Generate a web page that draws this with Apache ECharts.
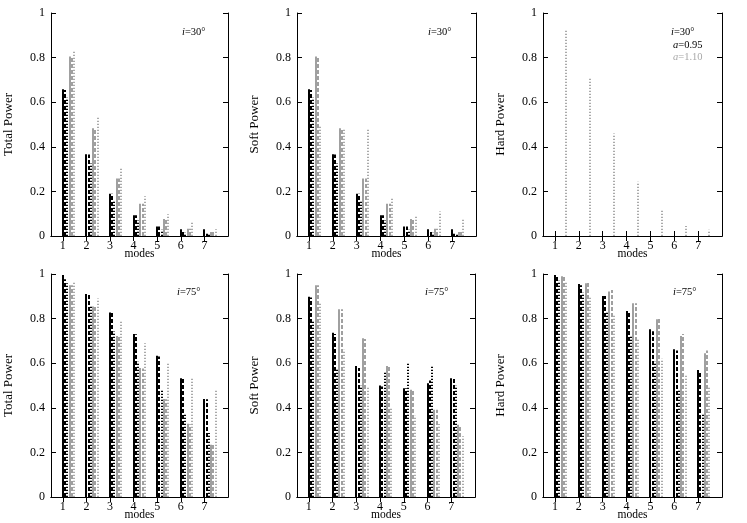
<!DOCTYPE html>
<html>
<head>
<meta charset="utf-8">
<script src="https://cdn.jsdelivr.net/npm/echarts@6/dist/echarts.min.js"></script>
<style>
html, body { margin: 0; padding: 0; background: #fff; }
#chart { width: 747px; height: 523px; }
</style>
</head>
<body>
<div id="chart"></div>
<script>
// modes on the x axis
var modes = [1, 2, 3, 4, 5, 6, 7];
var yTicks = [0, 0.2, 0.4, 0.6, 0.8, 1];

// each panel: rows are solid, dashed, dotted ; black = a=0.95, gray = a=1.10
var total30Black = [
    [0.658, 0.367, 0.190, 0.093, 0.043, 0.030, 0.030],
    [0.655, 0.365, 0.190, 0.093, 0.043, 0.022, 0.010],
    [0.620, 0.325, 0.156, 0.070, 0.028, 0.015, 0.008]
];
var total30Gray = [
    [0.805, 0.483, 0.258, 0.145, 0.076, 0.033, 0.018],
    [0.805, 0.483, 0.258, 0.145, 0.076, 0.033, 0.022],
    [0.830, 0.535, 0.306, 0.178, 0.097, 0.060, 0.030]
];
var soft30Black = [
    [0.658, 0.367, 0.190, 0.093, 0.043, 0.030, 0.030],
    [0.655, 0.365, 0.190, 0.093, 0.043, 0.022, 0.010],
    [0.620, 0.325, 0.156, 0.070, 0.028, 0.015, 0.008]
];
var soft30Gray = [
    [0.805, 0.483, 0.258, 0.145, 0.076, 0.033, 0.018],
    [0.805, 0.483, 0.258, 0.145, 0.076, 0.033, 0.022],
    [0.498, 0.483, 0.483, 0.168, 0.093, 0.110, 0.080]
];
var hard30Black = [
    [0, 0, 0, 0, 0, 0, 0],
    [0, 0, 0, 0, 0, 0, 0],
    [0, 0, 0, 0, 0, 0, 0]
];
var hard30Gray = [
    [0, 0, 0, 0, 0, 0, 0],
    [0, 0, 0, 0, 0, 0, 0],
    [0.920, 0.710, 0.460, 0.243, 0.115, 0.045, 0.028]
];
var total75Black = [
    [0.995, 0.910, 0.827, 0.731, 0.633, 0.533, 0.439],
    [0.976, 0.908, 0.825, 0.730, 0.630, 0.532, 0.438],
    [0.958, 0.857, 0.742, 0.607, 0.484, 0.376, 0.287]
];
var total75Gray = [
    [0.950, 0.854, 0.722, 0.578, 0.439, 0.328, 0.234],
    [0.950, 0.852, 0.720, 0.576, 0.438, 0.326, 0.233],
    [0.966, 0.890, 0.794, 0.690, 0.603, 0.537, 0.480]
];
var soft75Black = [
    [0.898, 0.737, 0.588, 0.500, 0.488, 0.510, 0.533],
    [0.895, 0.731, 0.578, 0.496, 0.488, 0.522, 0.533],
    [0.794, 0.578, 0.499, 0.563, 0.603, 0.585, 0.499]
];
var soft75Gray = [
    [0.950, 0.842, 0.712, 0.588, 0.481, 0.391, 0.324],
    [0.950, 0.842, 0.709, 0.588, 0.481, 0.391, 0.316],
    [0.869, 0.660, 0.496, 0.401, 0.364, 0.327, 0.272]
];
var hard75Black = [
    [0.995, 0.955, 0.901, 0.834, 0.752, 0.663, 0.570],
    [0.988, 0.950, 0.901, 0.828, 0.743, 0.657, 0.563],
    [0.970, 0.916, 0.827, 0.727, 0.607, 0.481, 0.373]
];
var hard75Gray = [
    [0.990, 0.958, 0.921, 0.869, 0.797, 0.722, 0.645],
    [0.990, 0.966, 0.928, 0.869, 0.806, 0.731, 0.657],
    [0.966, 0.899, 0.816, 0.707, 0.620, 0.550, 0.495]
];

var serif = '"Liberation Serif", "DejaVu Serif", serif';
var grayColor = '#a0a0a0';

// line styles: solid, dashed, dotted for black then gray
var lineKinds = [
    {color: '#000', dash: null},
    {color: '#000', dash: [4, 2]},
    {color: '#000', dash: [1.2, 1.8]},
    {color: grayColor, dash: null},
    {color: grayColor, dash: [4, 2]},
    {color: '#aaaaaa', dash: [1.2, 1.8]}
];
var barStep = 0.095;

var panels = [
    {name: 'Total Power', black: total30Black, gray: total30Gray, left: 51, top: 13, width: 177},
    {name: 'Soft Power', black: soft30Black, gray: soft30Gray, left: 297, top: 13, width: 179},
    {name: 'Hard Power', black: hard30Black, gray: hard30Gray, left: 543, top: 13, width: 179},
    {name: 'Total Power', black: total75Black, gray: total75Gray, left: 51, top: 274, width: 177},
    {name: 'Soft Power', black: soft75Black, gray: soft75Gray, left: 297, top: 274, width: 178},
    {name: 'Hard Power', black: hard75Black, gray: hard75Gray, left: 543, top: 274, width: 179}
];

/*
 * draws one impulse (vertical line) per mode
 * */
function impulse(offset, kind) {
    return function (params, api) {
        var v = api.value(1);
        if (!v) {
            return null;
        }
        var top = api.coord([api.value(0) + offset, v]);
        var base = api.coord([api.value(0) + offset, 0]);
        var x = Math.round(top[0]);
        return {
            type: 'line',
            shape: {x1: x, y1: base[1], x2: x, y2: top[1]},
            style: {stroke: kind.color, lineWidth: 2, lineDash: kind.dash}
        };
    };
}

var grid = [], xAxis = [], yAxis = [], series = [];
var axisLine = {lineStyle: {color: '#000', width: 1}};
var tick = {inside: true, length: 5, lineStyle: {color: '#000'}};

for (var p = 0; p < panels.length; p++) {
    var pn = panels[p];
    grid.push({left: pn.left, top: pn.top, width: pn.width, height: 223});

    xAxis.push({
        gridIndex: p, type: 'value', position: 'bottom', min: 0.5, max: 8,
        name: 'modes', nameLocation: 'middle', nameGap: 12, nameMoveOverlap: false,
        nameTextStyle: {fontFamily: serif, fontSize: 11.5, color: '#000', verticalAlign: 'top'},
        axisLine: axisLine,
        axisTick: Object.assign({customValues: modes}, tick),
        axisLabel: {customValues: modes, margin: 4, fontFamily: serif, fontSize: 12, color: '#000'},
        splitLine: {show: false}
    });
    xAxis.push({
        gridIndex: p, type: 'value', position: 'top', min: 0.5, max: 8,
        axisLine: axisLine,
        axisTick: Object.assign({customValues: modes}, tick),
        axisLabel: {show: false},
        splitLine: {show: false}
    });
    yAxis.push({
        gridIndex: p, type: 'value', position: 'left', min: 0, max: 1, interval: 0.2,
        name: pn.name, nameLocation: 'middle', nameGap: 36, nameRotate: 90,
        nameTextStyle: {fontFamily: serif, fontSize: 13, color: '#000'},
        axisLine: axisLine, axisTick: tick,
        axisLabel: {margin: 6, fontFamily: serif, fontSize: 12, color: '#000'},
        splitLine: {show: false}
    });
    yAxis.push({
        gridIndex: p, type: 'value', position: 'right', min: 0, max: 1, interval: 0.2,
        axisLine: axisLine, axisTick: tick,
        axisLabel: {show: false},
        splitLine: {show: false}
    });

    var sets = pn.black.concat(pn.gray);
    for (var s = 0; s < sets.length; s++) {
        var vals = sets[s];
        series.push({
            type: 'custom',
            xAxisIndex: 2 * p,
            yAxisIndex: 2 * p,
            renderItem: impulse(s * barStep, lineKinds[s]),
            data: modes.map(function (m, i) { return [m, vals[i]]; }),
            silent: true
        });
    }
}

var labelFont = {fontFamily: serif, fontSize: 10.5, fill: '#000'};
var rich = {it: {fontStyle: 'italic', fontFamily: serif, fontSize: 10.5}};
function note(x, y, text, color) {
    return {
        type: 'text', x: x, y: y,
        style: Object.assign({}, labelFont, {text: text, fill: color || '#000', rich: rich})
    };
}

var graphic = [
    note(182, 27, '{it|i}=30°'),
    note(428, 27, '{it|i}=30°'),
    note(671, 27, '{it|i}=30°'),
    note(673, 40, '{it|a}=0.95'),
    note(673, 52, '{it|a}=1.10', '#a8a8a8'),
    note(177, 287, '{it|i}=75°'),
    note(425, 287, '{it|i}=75°'),
    note(673, 287, '{it|i}=75°')
];

var chart = echarts.init(document.getElementById('chart'));
chart.setOption({
    animation: false,
    backgroundColor: '#fff',
    grid: grid,
    xAxis: xAxis,
    yAxis: yAxis,
    series: series,
    graphic: graphic
});
</script>
</body>
</html>
